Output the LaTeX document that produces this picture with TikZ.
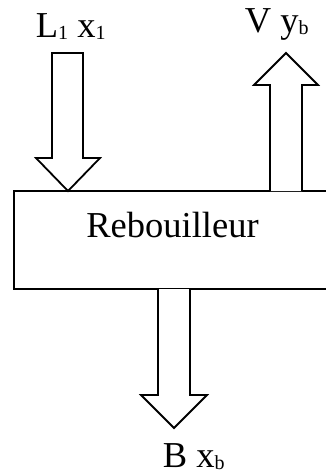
\documentclass[tikz,border=0pt]{standalone}
\usepackage{fontspec}
\setmainfont{Liberation Serif}
\newcommand{\subtx}[1]{{\fontsize{20}{20}\selectfont\raisebox{-2pt}{#1}}}
\begin{document}
\begin{tikzpicture}[x=1pt,y=-1pt,line width=1.8pt,
  blockarrow/.style={draw=black,fill=white,line join=miter},
  lbl/.style={font=\fontsize{36.5}{40}\selectfont,inner sep=0pt,anchor=base}]
\useasboundingbox (0,0) rectangle (326,475);
\clip (0,0) rectangle (326,475);
% box
\draw (14,191) rectangle (340,289);
\node[lbl] (reb) at (172.5,237) {Rebouilleur};
% inlet arrow L1 x1
\draw[blockarrow] (52,53) -- (83,53) -- (83,158) -- (100,158) -- (68,191) -- (36,158) -- (52,158) -- cycle;
% vapour arrow
\draw[blockarrow] (270,191) -- (270,85) -- (254,85) -- (286,53) -- (318,85) -- (302,85) -- (302,191);
% bottom arrow
\draw[blockarrow] (158,289) -- (158,395) -- (141,395) -- (174,428) -- (207,395) -- (190,395) -- (190,289);
\node[lbl,anchor=base west] (l1) at (35,37) {L\subtx{1} x\subtx{1}};
\node[lbl,anchor=base west] (vy) at (244,32) {V y\subtx{b}};
\node[lbl,anchor=base west] (bx) at (162,467) {B x\subtx{b}};
\end{tikzpicture}
\end{document}
